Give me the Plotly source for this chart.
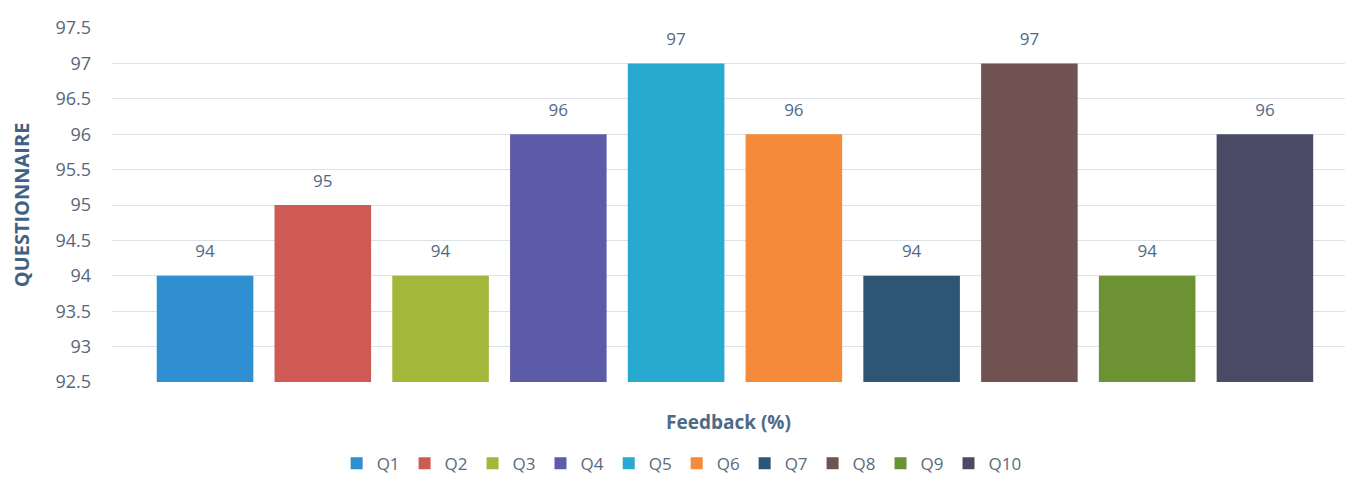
import plotly.graph_objects as go

questions = ["Q1", "Q2", "Q3", "Q4", "Q5", "Q6", "Q7", "Q8", "Q9", "Q10"]
feedback = [94, 95, 94, 96, 97, 96, 94, 97, 94, 96]
colors = ["#2f8fd0", "#cf5a55", "#a3b83a", "#5d5ca8", "#27a9d0",
          "#f58a3a", "#2f5575", "#705350", "#6d9234", "#4b4a66"]
category = ["Feedback (%)"]
y_ticks = [92.5, 93, 93.5, 94, 94.5, 95, 95.5, 96, 96.5, 97, 97.5]

fig = go.Figure()
for i, (q, v, c) in enumerate(zip(questions, feedback, colors)):
    fig.add_trace(go.Bar(
        x=category, y=[v], name=q, marker_color=c, marker_line_width=0,
        offsetgroup=str(i),
    ))
for i, (q, v) in enumerate(zip(questions, feedback)):
    fig.add_trace(go.Scatter(
        x=category, y=[v], mode="markers+text", text=[str(v)],
        textposition="top center", offsetgroup=str(i), showlegend=False,
        marker=dict(size=21, opacity=0), cliponaxis=False, hoverinfo="skip",
        textfont=dict(family="Open Sans", size=17, color="#4f6a86"),
    ))

fig.update_layout(
    width=1353, height=483,
    paper_bgcolor="white", plot_bgcolor="white",
    margin=dict(l=112, r=8, t=28, b=101, autoexpand=False),
    barmode="group", bargap=0.0, bargroupgap=0.18,
    scattermode="group", scattergap=0.0,
    font=dict(family="Open Sans", color="#5a6b7d"),
    legend=dict(orientation="h", x=0.462, xanchor="center", y=-0.18, yanchor="top",
                font=dict(size=17, color="#5a6b7d"), itemwidth=30,
                traceorder="normal"),
    showlegend=True,
)
fig.update_xaxes(range=[-0.529, 0.518], showticklabels=False, showgrid=False,
                 zeroline=False, showline=False, automargin=False,
                 title=dict(text="<b>Feedback (%)</b>", standoff=33,
                            font=dict(size=19, color="#4f6a86")))
fig.update_yaxes(range=[92.5, 97.5], tickvals=y_ticks,
                 ticktext=[f"{t:g}" for t in y_ticks],
                 showgrid=True, gridcolor="#dbe3e8", gridwidth=1,
                 zeroline=False, showline=False, ticks="", automargin=False,
                 ticklabelstandoff=20,
                 tickfont=dict(size=18, color="#56687b"),
                 title=dict(text="<b>QUESTIONNAIRE</b>", standoff=20,
                            font=dict(size=20, color="#3f6285")))

fig.write_html("out.html", config={"displayModeBar": False},
               post_script="document.body.style.margin='0';")
